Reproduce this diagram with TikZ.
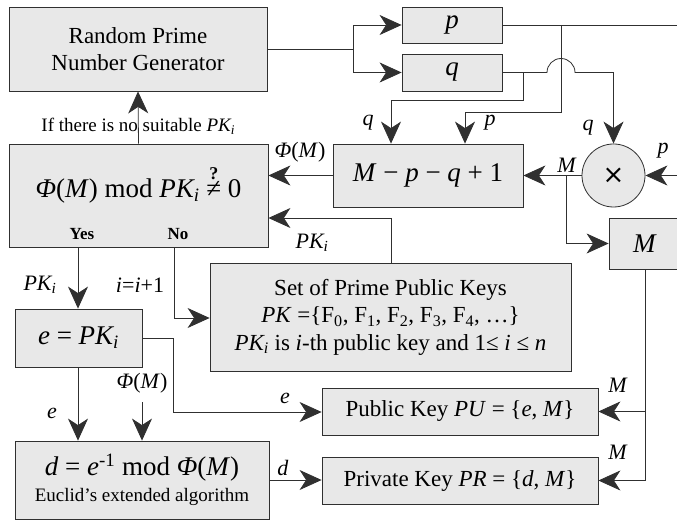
\documentclass[tikz,border=0pt]{standalone}
\usepackage{fontspec}
\setmainfont{Liberation Serif}
\newfontfamily\symfont{DejaVu Sans}
\usetikzlibrary{arrows.meta}
\definecolor{boxgray}{HTML}{E8E8E8}
\definecolor{linegray}{HTML}{303030}
\newcommand{\fs}[2]{\fontsize{#1}{#2}\selectfont}
\newcommand{\vr}[1]{\textit{#1}}
\newcommand{\PKi}{\textit{PK\textsubscript{i}}}
\begin{document}
\begin{tikzpicture}[x=1pt,y=-1pt,
  box/.style={draw=linegray, fill=boxgray, line width=0.8pt, inner sep=0pt, align=center},
  wire/.style={draw=linegray, line width=0.8pt},
  arr/.style={-{Stealth[length=22pt,width=20pt,inset=6.5pt]}},
  lbl/.style={font=\fs{22}{26}, inner sep=1pt}
]
\useasboundingbox (0,0) rectangle (677,521);
\clip (0,0) rectangle (677,521);

% blocks
\node[box, minimum width=258, minimum height=84, font=\fs{23}{27}] (gen) at (138,49) {Random Prime\\Number Generator};
\node[box, minimum width=259, minimum height=103, font=\fs{27}{30}] (test) at (138.5,195.5)
  {\raisebox{0pt}[13pt][8pt]{\vr{Φ}(\vr{M}) mod \PKi\ $\stackrel{\mbox{\fs{18}{18}\bfseries ?}}{\mbox{≠}}$ 0}};
\node[box, minimum width=100, minimum height=36, font=\fs{27}{30}] (p) at (452,25) {\vr{p}};
\node[box, minimum width=100, minimum height=37, font=\fs{27}{30}] (q) at (452,72.5) {\vr{q}};
\node[box, minimum width=190, minimum height=63, font=\fs{27}{30}] (sub) at (428,175.5) {\vr{M} − \vr{p} − \vr{q} + 1};
\node[box, circle, minimum size=63, font=\fs{26}{30}\symfont] (mult) at (613.5,175.5) {×};
\node[box, minimum width=72, minimum height=51, font=\fs{27}{30}] (mod) at (645,243.5) {\vr{M}};
\node[box, minimum width=361, minimum height=108, font=\fs{23}{27.5}] (keys) at (390.5,317)
  {Set of Prime Public Keys\\
   \vr{PK} =\{F\textsubscript{0}, F\textsubscript{1}, F\textsubscript{2}, F\textsubscript{3}, F\textsubscript{4}, …\}\\
   \PKi\ is \vr{i}-th public key and 1≤ \vr{i} ≤ \vr{n}};
\node[box, minimum width=127, minimum height=58, font=\fs{27}{30}] (e) at (78.5,338) {\vr{e} = \PKi};
\node[box, minimum width=254, minimum height=78, font=\fs{27}{30}] (d) at (142,480)
  {\vr{d} = \vr{e}\textsuperscript{-1} mod \vr{Φ}(\vr{M})\\[-4pt]{\fs{19}{22}Euclid’s extended algorithm}};
\node[box, minimum width=276, minimum height=47, font=\fs{23}{27}] (pub) at (460,411.5) {Public Key \vr{PU} = \{\vr{e}, \vr{M}\}};
\node[box, minimum width=276, minimum height=47, font=\fs{23}{27}] (priv) at (460,480.5) {Private Key \vr{PR} = \{\vr{d}, \vr{M}\}};

% free ends at the border
\coordinate (pout) at (677,25);
\coordinate (pin) at (677,175.5);
\coordinate (phid) at (142,402);

% generator to p and q
\draw[wire] (gen.east) -- (353,49) coordinate (split);
\draw[wire,arr] (split) |- (p.west);
\draw[wire,arr] (split) |- (q.west);

% p wire
\draw[wire] (p.east) -- (pout);
\draw[wire,arr] (561,25) -- (561,112) -- (465,112) -- (465,0 |- sub.north);
\draw[wire,arr] (pin) -- (mult.east);

% q wire with hop over p
\draw[wire,arr] (q.east) -- (547,72.5) arc[start angle=180, end angle=360, radius=14] -- (613.5,72.5) -- (mult.north);
\draw[wire,arr] (523,72.5) -- (523,100) -- (391,100) -- (391,0 |- sub.north);

% product M
\draw[wire,arr] (mult.west) -- (sub.east);
\draw[wire,arr] (566,175.5) |- (mod.west);
\draw[wire,arr] (sub.west) -- (sub.west -| test.east);

% key set back to test
\draw[wire,arr] (391,0 |- keys.north) -- (391,218) -- (391,218 -| test.east);

% test outcomes
\draw[wire,arr] (test.north) -- (gen.south)
  node[midway, font=\fs{19}{22}, inner sep=0pt, yshift=-9pt] {If there is no suitable \PKi};
\draw[wire,arr] (78,0 |- test.south) -- (78,0 |- e.north);
\draw[wire,arr] (174,0 |- test.south) -- (174,318) -- (174,318 -| keys.west);

% e and d
\draw[wire,arr] (e.east) -- (173,338) -- (173,412) -- (173,412 -| pub.west);
\draw[wire,arr] (78,0 |- e.south) -- (78,0 |- d.north);
\draw[wire,arr] (phid) -- (142,0 |- d.north);
\draw[wire,arr] (d.east) -- (d.east -| priv.west);

% modulus to the keys
\draw[wire] (645,0 |- mod.south) -- (645,480.5);
\draw[wire,arr] (645,411.5) -- (pub.east);
\draw[wire,arr] (645,480.5) -- (priv.east);

% labels
\node[lbl] at (368,123) {\vr{q}};
\node[lbl] at (490,123) {\vr{p}};
\node[lbl] at (588,128) {\vr{q}};
\node[lbl] at (663,151) {\vr{p}};
\node[lbl] at (567,165) {\vr{M}};
\node[lbl] at (300,152) {\vr{Φ}(\vr{M})};
\node[lbl] at (312,243) {\PKi};
\node[font=\fs{17}{20}\bfseries] at (82,234) {Yes};
\node[font=\fs{17}{20}\bfseries] at (178,234) {No};
\node[lbl] at (40,285) {\PKi};
\node[lbl] at (140,285) {\vr{i}=\vr{i}+1};
\node[lbl] at (285,398) {\vr{e}};
\node[lbl] at (52,413) {\vr{e}};
\node[lbl] at (142,383) {\vr{Φ}(\vr{M})};
\node[lbl] at (283,468) {\vr{d}};
\node[lbl] at (618,385) {\vr{M}};
\node[lbl] at (618,452) {\vr{M}};
\end{tikzpicture}
\end{document}
